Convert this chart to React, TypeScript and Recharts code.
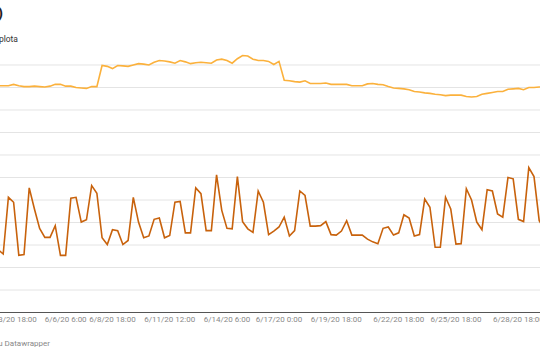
import { LineChart, Line, XAxis, YAxis, ReferenceLine } from "recharts";

// one reading every step, left to right; the chart is cropped at both edges
const temperature = [
  50.4, 50.4, 50.4, 50.7, 50.4, 50.2, 50.2, 50.3, 50.2, 50.1,
  50.3, 50.7, 50.7, 50.3, 50.3, 50.0, 49.9, 49.8, 50.2, 50.2,
  54.9, 54.7, 54.2, 54.9, 54.8, 54.7, 55.0, 55.3, 55.2, 55.0,
  55.6, 56.0, 55.9, 55.7, 55.4, 56.0, 55.7, 55.3, 55.5, 55.6,
  55.5, 55.4, 56.1, 56.3, 56.0, 55.4, 56.4, 57.1, 57.0, 56.3,
  56.0, 56.0, 55.8, 55.1, 55.8, 51.6, 51.5, 51.3, 51.2, 51.5,
  50.9, 50.9, 50.9, 51.0, 50.7, 50.7, 50.7, 50.7, 50.4, 50.4,
  50.4, 50.8, 50.9, 50.7, 50.6, 50.2, 49.9, 49.8, 49.7, 49.5,
  49.1, 49.0, 48.8, 48.7, 48.5, 48.4, 48.2, 48.3, 48.3, 48.3,
  48.0, 47.9, 48.0, 48.5, 48.7, 48.9, 49.1, 49.1, 49.6, 49.7,
  49.8, 49.5, 50.0, 50.0, 50.1, 50.2,
];

const consumption = [
  14.0, 13.0, 25.6, 24.5, 12.7, 12.9, 27.7, 23.0, 18.7, 16.7,
  16.7, 19.3, 12.7, 12.7, 25.4, 25.6, 20.1, 20.6, 28.2, 26.5,
  16.6, 15.1, 18.4, 18.2, 15.1, 16.0, 25.6, 20.1, 16.6, 17.0,
  20.7, 21.0, 16.6, 17.1, 24.5, 24.7, 17.7, 17.7, 27.7, 26.4,
  18.2, 18.2, 30.6, 22.7, 18.7, 18.6, 30.2, 20.2, 18.6, 17.8,
  27.0, 24.5, 17.3, 18.1, 19.0, 21.2, 17.0, 18.2, 27.0, 26.0,
  19.2, 19.2, 19.3, 20.2, 17.3, 17.2, 18.1, 20.4, 17.2, 17.2,
  17.2, 16.3, 15.7, 15.3, 18.7, 19.0, 17.2, 17.7, 21.7, 21.0,
  17.0, 17.3, 25.2, 23.4, 14.5, 14.5, 25.6, 23.0, 15.2, 15.3,
  27.5, 25.0, 20.1, 18.4, 27.3, 27.0, 21.9, 21.2, 30.0, 29.7,
  20.7, 20.2, 32.2, 30.2, 20.4, 18.5,
];

const tickIndex = [3, 13, 22, 33, 44, 54, 65, 77, 88, 100];
const tickLabels = [
  "6/3/20 18:00",
  "6/6/20 6:00",
  "6/8/20 18:00",
  "6/11/20 12:00",
  "6/14/20 6:00",
  "6/17/20 0:00",
  "6/19/20 18:00",
  "6/22/20 18:00",
  "6/25/20 18:00",
  "6/28/20 18:00",
];

const gridValues = [5, 10, 15, 20, 25, 30, 35, 40, 45, 50, 55];

const data = temperature.map((t, i) => ({ i, t, c: consumption[i] }));

const font = "Roboto, 'Open Sans', sans-serif";

export default function App() {
  const step = 5.204;
  const last = data.length - 1;
  const plotW = step * last;

  return (
    <div
      style={{
        position: "fixed",
        left: 0,
        top: 0,
        width: 540,
        height: 360,
        overflow: "hidden",
        background: "#fff",
        fontFamily: font,
      }}
    >
      <div
        style={{
          position: "absolute",
          right: 537,
          top: 6,
          fontSize: 15,
          lineHeight: 1,
          fontWeight: 700,
          color: "#1d1d1d",
          whiteSpace: "nowrap",
        }}
      >
        Spotreba a teplota (jún 2020)
      </div>
      <div
        style={{
          position: "absolute",
          right: 522,
          top: 34.5,
          fontSize: 8.5,
          lineHeight: 1,
          color: "#333",
          whiteSpace: "nowrap",
        }}
      >
        teplota
      </div>

      <LineChart
        width={plotW}
        height={360}
        data={data}
        margin={{ top: 42.5, right: 0, left: 0, bottom: 17.5 }}
        style={{ position: "absolute", left: -1.9, top: 0 }}
      >
        <XAxis
          dataKey="i"
          type="number"
          domain={[0, last]}
          ticks={tickIndex}
          interval={0}
          tickFormatter={(v: number) => tickLabels[tickIndex.indexOf(v)]}
          tick={{ fontSize: 8, fill: "#888", fontFamily: font }}
          tickLine={false}
          tickSize={2}
          tickMargin={2}
          height={30}
          axisLine={{ stroke: "#555", strokeWidth: 1.2 }}
        />
        <YAxis
          domain={[0, 60]}
          width={0}
          tick={false}
          axisLine={false}
          tickLine={false}
        />
        {gridValues.map((v) => (
          <ReferenceLine key={v} y={v} stroke="#e4e4e4" strokeWidth={1} />
        ))}
        <ReferenceLine
          segment={[
            { x: 0, y: 0 },
            { x: last, y: 0 },
          ]}
          ifOverflow="visible"
          stroke="#555"
          strokeWidth={1.2}
        />
        <Line
          dataKey="t"
          stroke="#fbb13c"
          strokeWidth={1.6}
          dot={false}
          isAnimationActive={false}
        />
        <Line
          dataKey="c"
          stroke="#c8620c"
          strokeWidth={1.6}
          dot={false}
          isAnimationActive={false}
        />
      </LineChart>

      <div
        style={{
          position: "absolute",
          right: 490,
          top: 340,
          fontSize: 8,
          lineHeight: 1,
          color: "#888",
          whiteSpace: "nowrap",
        }}
      >
        Vytvorené pomocou Datawrapper
      </div>
    </div>
  );
}
